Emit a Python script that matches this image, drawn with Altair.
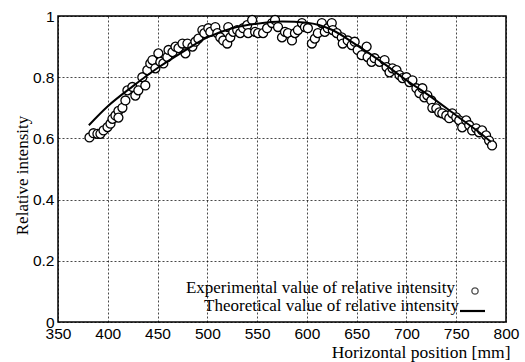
import altair as alt
import pandas as pd

# Experimental points
exp_x = [381.6, 385.6, 389.6, 392.6, 395.7, 399.7, 402.7, 404.7, 407.7, 410.7, 410.7, 414.7,
         417.7, 419.7, 424.7, 427.7, 430.7, 434.7, 437.7, 439.7, 442.7, 444.8, 447.8, 450.8,
         452.8, 455.8, 459.8, 461, 465, 468, 471, 475, 478, 480, 485, 488, 491, 495, 497, 501,
         503, 508, 510, 513, 516, 520, 521, 523, 526, 530, 533, 536, 540, 541, 545, 548, 551,
         556, 560, 565, 568, 571, 575, 578, 581, 585, 588, 591, 595, 598, 601, 605, 608, 611,
         615, 618, 621, 625, 626, 630, 635, 636, 641, 645, 648, 651, 655, 660, 661, 665, 668,
         673, 678, 680, 683, 686, 690, 693, 696, 700, 703, 706, 710, 713, 716, 718, 721, 725,
         726, 730, 733, 736, 740, 743, 746, 750, 753, 756, 760, 763, 766, 770, 773, 776, 780,
         783, 786]
exp_y = [0.603, 0.617, 0.615, 0.615, 0.626, 0.637, 0.648, 0.664, 0.675, 0.690, 0.668, 0.700,
         0.724, 0.757, 0.768, 0.740, 0.757, 0.800, 0.773, 0.823, 0.845, 0.856, 0.829, 0.878,
         0.850, 0.845, 0.866, 0.889, 0.882, 0.900, 0.895, 0.910, 0.878, 0.910, 0.900, 0.916,
         0.926, 0.954, 0.944, 0.960, 0.948, 0.964, 0.944, 0.930, 0.920, 0.910, 0.964, 0.930,
         0.948, 0.954, 0.944, 0.960, 0.970, 0.944, 0.987, 0.948, 0.944,
         0.944, 0.960, 0.977, 0.987, 0.964, 0.930, 0.948, 0.944, 0.920, 0.944, 0.954, 0.977,
         0.964, 0.960, 0.910, 0.926, 0.944, 0.977, 0.948, 0.960, 0.977, 0.954, 0.944, 0.930,
         0.910, 0.920, 0.905, 0.916, 0.889, 0.872, 0.900, 0.866, 0.850, 0.862, 0.850, 0.856,
         0.833, 0.816, 0.829, 0.823, 0.807, 0.797, 0.800, 0.784, 0.790, 0.764, 0.748, 0.764,
         0.734, 0.741, 0.724, 0.700, 0.698, 0.685, 0.682, 0.675, 0.666, 0.682, 0.669, 0.659,
         0.636, 0.659, 0.643, 0.626, 0.633, 0.620, 0.626, 0.610, 0.593, 0.577]

# Theoretical curve
theo_x = [381, 400, 425, 450, 475, 500, 525, 550, 575, 600, 625, 650, 675, 700, 725, 750, 775, 785]
theo_y = [0.643, 0.705, 0.770, 0.830, 0.882, 0.930, 0.960, 0.975, 0.982, 0.978, 0.955, 0.905,
          0.850, 0.790, 0.735, 0.675, 0.615, 0.588]

x_ticks = [350, 400, 450, 500, 550, 600, 650, 700, 750, 800]
y_ticks = [0, 0.2, 0.4, 0.6, 0.8, 1]

legend_labels = ["Experimental value of relative intensity",
                 "Theoretical value of relative intensity"]

exp_df = pd.DataFrame({"x": exp_x, "y": exp_y})
theo_df = pd.DataFrame({"x": theo_x, "y": theo_y})

xs = alt.Scale(domain=[350, 800], nice=False, zero=False)
ys = alt.Scale(domain=[0, 1], nice=False)

serif = "Liberation Serif"
sans = "Liberation Sans"

x_axis = alt.Axis(values=x_ticks, title="Horizontal position [mm]", grid=True,
                  gridDash=[2, 2], gridColor="black", gridOpacity=0.9, gridWidth=0.8,
                  ticks=False, domain=False, labelFont=sans, labelFontSize=15.5,
                  labelColor="black", labelPadding=4, labelFlush=False,
                  titleFont=serif, titleFontSize=17.5, titleFontWeight="normal",
                  titleColor="black", titleAlign="right", titleAnchor="end",
                  titleX=452, titleY=35, titleBaseline="alphabetic")
y_axis = alt.Axis(values=y_ticks, format="~g", title="Relative intensity", grid=True,
                  gridDash=[2, 2], gridColor="black", gridOpacity=0.9, gridWidth=0.8,
                  ticks=False, domain=False, labelFont=sans, labelFontSize=15.5,
                  labelColor="black", labelPadding=4, labelFlush=False,
                  titleFont=serif, titleFontSize=17, titleFontWeight="normal",
                  titleColor="black", titleAngle=270, titleX=-31, titleY=159,
                  titleAlign="center", titleBaseline="alphabetic")

pts = alt.Chart(exp_df).mark_point(shape="circle", filled=True, fill="white",
                                   stroke="black", strokeWidth=1.3, size=80, opacity=1).encode(
    x=alt.X("x:Q", scale=xs, axis=x_axis),
    y=alt.Y("y:Q", scale=ys, axis=y_axis),
)
line = alt.Chart(theo_df).mark_line(color="black", strokeWidth=2, interpolate="monotone").encode(
    x=alt.X("x:Q", scale=xs),
    y=alt.Y("y:Q", scale=ys),
)

leg_df = pd.DataFrame({"t": legend_labels, "px": [397, 401], "py": [276.5, 294.5]})
leg_text = alt.Chart(leg_df).mark_text(font=serif, fontSize=17, align="right",
                                       baseline="alphabetic", color="black").encode(
    text="t:N", x=alt.X("px:Q", scale=None), y=alt.Y("py:Q", scale=None),
)
leg_circle = alt.Chart(leg_df.iloc[:1]).mark_point(shape="circle", filled=False, stroke="black",
                                                  strokeWidth=1.3, size=40).encode(
    x=alt.value(417), y=alt.value(275))
leg_line = alt.Chart(leg_df.iloc[:1]).mark_rule(color="black", strokeWidth=2.2).encode(
    x=alt.value(402), x2=alt.value(427), y=alt.value(295))

chart = alt.layer(pts, line, leg_text, leg_circle, leg_line).properties(
    width=448, height=306,
    autosize=alt.AutoSizeParams(type="none"),
    padding={"left": 58, "top": 16, "right": 19, "bottom": 40},
    background="white",
).configure_view(stroke="black", strokeWidth=1.5)

chart.save("out.html", embed_options={"renderer": "svg", "actions": False})
